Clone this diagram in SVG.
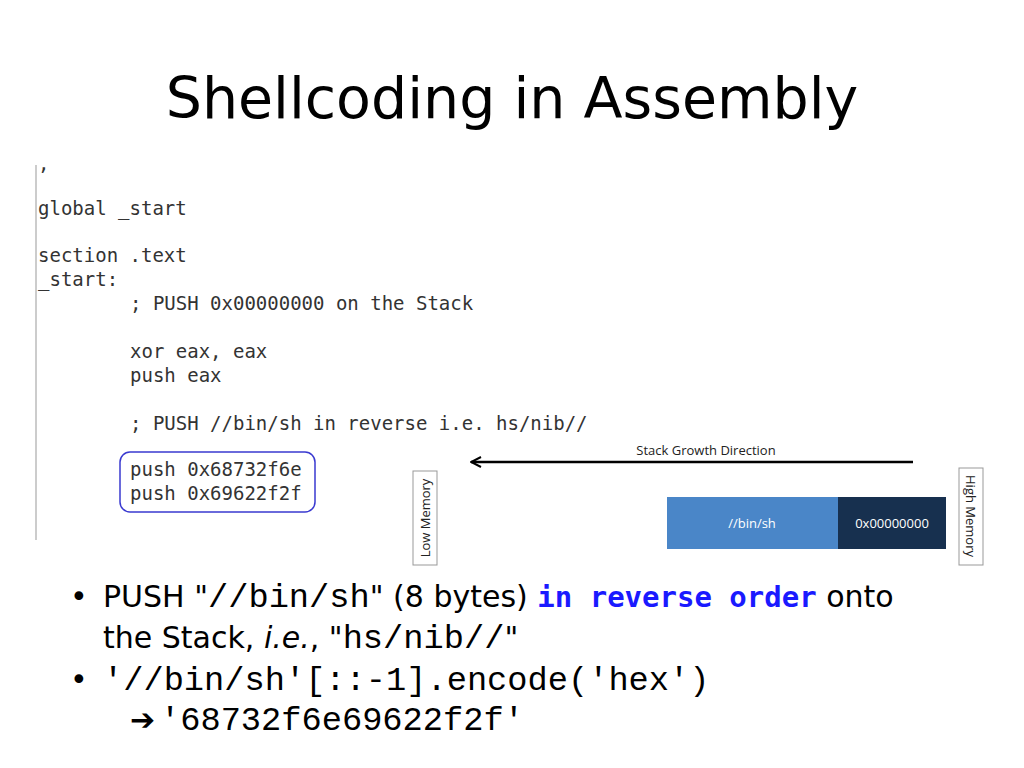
<svg xmlns="http://www.w3.org/2000/svg" width="1024" height="768" viewBox="0 0 1024 768">
<style>
.code{font-family:"DejaVu Sans Mono",monospace;font-size:19px;fill:#333}
.lbl{font-family:"Open Sans","DejaVu Sans",sans-serif;font-size:13px;fill:#222}
.bul{font-family:"DejaVu Sans","Liberation Sans",sans-serif;font-size:30px;fill:#000}
.mono{font-family:"Liberation Mono",monospace;font-size:33.7px}
</style>
<defs><marker id="ah" markerWidth="12" markerHeight="12" refX="11" refY="6" orient="auto" markerUnits="userSpaceOnUse"><path d="M1,1 L11,6 L1,11" fill="none" stroke="#000" stroke-width="2"/></marker></defs>
<rect width="1024" height="768" fill="#fff"/>
<text x="512" y="118" text-anchor="middle" font-family="'DejaVu Sans',sans-serif" font-size="57" fill="#000">Shellcoding in Assembly</text>
<g id="code">
<line x1="36" y1="165" x2="36" y2="540" stroke="#bbb" stroke-width="1.5"/>
<text class="code" x="38" y="170">,</text>
<text class="code" x="38" y="215">global _start</text>
<text class="code" x="38" y="262">section .text</text>
<text class="code" x="38" y="286">_start:</text>
<text class="code" x="130" y="310">; PUSH 0x00000000 on the Stack</text>
<text class="code" x="130" y="358">xor eax, eax</text>
<text class="code" x="130" y="382">push eax</text>
<text class="code" x="130" y="430">; PUSH //bin/sh in reverse i.e. hs/nib//</text>
<rect x="120" y="452" width="195" height="60" rx="10" fill="none" stroke="#3a3ad0" stroke-width="1.5"/>
<text class="code" x="130" y="476">push 0x68732f6e</text>
<text class="code" x="130" y="500">push 0x69622f2f</text>
</g>
<g id="connectors">
<line x1="913" y1="462" x2="471" y2="462" stroke="#000" stroke-width="2.5" marker-end="url(#ah)"/>
</g>
<text class="lbl" x="706" y="455" text-anchor="middle">Stack Growth Direction</text>
<g id="low"><rect x="413" y="471" width="24" height="94" fill="#fff" stroke="#999"/><text class="lbl" transform="translate(430,518) rotate(-90)" text-anchor="middle">Low Memory</text></g>
<g id="high"><rect x="959" y="468" width="24" height="97" fill="#fff" stroke="#999"/><text class="lbl" transform="translate(966,516) rotate(90)" text-anchor="middle">High Memory</text></g>
<g id="binsh"><rect x="667" y="497" width="171" height="52" fill="#4a86c8"/><text class="lbl" x="752" y="528" text-anchor="middle" style="fill:#fff">//bin/sh</text></g>
<g id="zero"><rect x="838" y="497" width="108" height="52" fill="#17304f"/><text class="lbl" x="892" y="528" text-anchor="middle" style="fill:#fff">0x00000000</text></g>
<g id="bullets">
<text class="bul" x="70" y="607">•</text>
<text class="bul" x="103" y="607">PUSH "<tspan class="mono">//bin/sh</tspan>" (8 bytes) <tspan fill="#1a1aff" font-weight="bold" font-family="'DejaVu Sans Mono',monospace" font-size="29">in reverse order</tspan> onto</text>
<text class="bul" x="103" y="648">the Stack, <tspan font-style="italic">i.e.</tspan>, "<tspan class="mono">hs/nib//</tspan>"</text>
<text class="bul" x="70" y="690">•</text>
<text class="bul mono" x="103" y="690">'//bin/sh'[::-1].encode('hex')</text>
<text class="bul" x="130" y="730" font-size="26">➔</text>
<text class="bul mono" x="160" y="730">'68732f6e69622f2f'</text>
</g>
</svg>
